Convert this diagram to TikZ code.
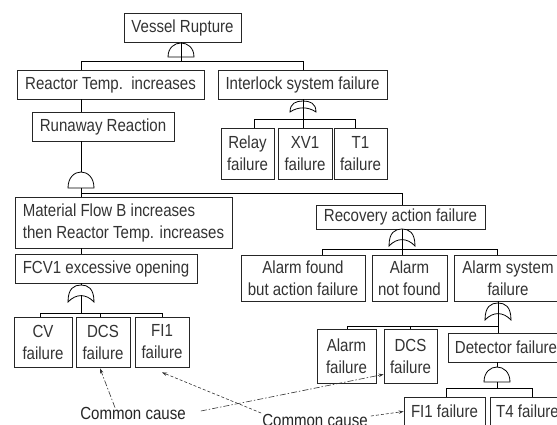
\documentclass[tikz,border=0pt]{standalone}
\usepackage{fontspec}
\setmainfont{Liberation Sans}[FakeStretch=0.86]
\usetikzlibrary{arrows.meta}

\begin{document}
\begin{tikzpicture}[x=1pt,y=-1pt,
  font=\fontsize{17.5}{22}\selectfont,
  box/.style={draw=black!85, line width=0.8pt, fill=white, inner sep=0pt, align=center, text=black!80},
  wire/.style={draw=black, line width=0.8pt},
  gate/.style={draw=black, line width=0.8pt, fill=white},
  pics/andgate/.style={code={\path[gate] (-13,#1) .. controls (-13,{-#1/3}) and (13,{-#1/3}) .. (13,#1) -- cycle;}},
  pics/orgate/.style={code={\path[gate] (-13,#1) .. controls (-13,{0.2*#1}) and (-7,0) .. (0,0) .. controls (7,0) and (13,{0.2*#1}) .. (13,#1) .. controls (5,{0.5*#1}) and (-5,{0.5*#1}) .. cycle;}},
  cause/.style={text=black!85, inner sep=1pt},
  link/.style={draw=black!80, line width=0.6pt, -{Stealth[length=5pt,width=3.5pt]}},
  dashdot/.style={dash pattern=on 6pt off 2pt on 1.5pt off 2pt},
  shortdash/.style={dash pattern=on 3pt off 2pt}]

\useasboundingbox (0,0) rectangle (557,425);
\clip (0,0) rectangle (557,425);
\fill[white] (0,0) rectangle (557,425);

% ---- events ----
\node[box, minimum width=117pt, minimum height=29pt] (vessel)    at (182.5,27.5) {Vessel Rupture};
\node[box, minimum width=187pt, minimum height=29pt] (reactor)   at (110.5,84.5) {Reactor Temp.\ \ increases};
\node[box, minimum width=169pt, minimum height=29pt] (interlock) at (302.5,84.5) {Interlock system failure};
\node[box, minimum width=142pt, minimum height=29pt] (runaway)   at (103,126.5) {Runaway Reaction};
\node[box, minimum width=53pt,  minimum height=51pt] (relay)     at (247.5,153.5) {Relay\\failure};
\node[box, minimum width=54pt,  minimum height=51pt] (xv)        at (305,153.5) {XV1\\failure};
\node[box, minimum width=53pt,  minimum height=51pt] (tone)      at (360.5,153.5) {T1\\failure};
\node[box, align=left, minimum width=217pt, minimum height=51pt] (material) at (123.5,222.5) {Material Flow B increases\\then Reactor Temp. increases};
\node[box, minimum width=182pt, minimum height=29pt] (fcv)       at (106,268.5) {FCV1 excessive opening};
\node[box, minimum width=58pt,  minimum height=50pt] (cv)        at (43,342) {CV\\failure};
\node[box, minimum width=54pt,  minimum height=50pt] (dcsA)      at (103,342) {DCS\\failure};
\node[box, minimum width=54pt,  minimum height=50pt] (fiA)       at (162,342) {FI1\\failure};
\node[box, minimum width=169pt, minimum height=24pt] (recovery)  at (400.5,217) {Recovery action failure};
\node[box, minimum width=124pt, minimum height=46pt] (afound)    at (303,278) {Alarm found\\but action failure};
\node[box, minimum width=75pt,  minimum height=46pt] (anot)      at (409.5,278) {Alarm\\not found};
\node[box, minimum width=108pt, minimum height=46pt] (asys)      at (508,278) {Alarm system\\failure};
\node[box, minimum width=59pt,  minimum height=54pt] (afail)     at (346.5,356) {Alarm\\failure};
\node[box, minimum width=53pt,  minimum height=54pt] (dcsB)      at (410.5,356) {DCS\\failure};
\node[box, minimum width=116pt, minimum height=29pt] (det)       at (506,347.5) {Detector failure};
\node[box, minimum width=81pt,  minimum height=29pt] (fiB)       at (444.5,411.5) {FI1 failure};
\node[box, minimum width=75pt,  minimum height=29pt] (tfour)     at (527.5,411.5) {T4 failure};
\node[cause] (ccA) at (133,413) {Common cause};
\node[cause] (ccB) at (315,420) {Common cause};

% ---- gate apexes, bar levels and branch positions ----
\coordinate (gA) at (181,43);
\coordinate (gB) at (81,172);
\coordinate (gC) at (303,101);
\coordinate (gD) at (81,285);
\coordinate (gE) at (402,229);
\coordinate (gF) at (498,303);
\coordinate (gG) at (497,367);
\coordinate (bA) at (0,61);
\coordinate (bB) at (0,193);
\coordinate (bC) at (0,313);
\coordinate (bD) at (0,119);
\coordinate (bE) at (0,249);
\coordinate (bF) at (0,326);
\coordinate (bG) at (0,388);
\coordinate (kCV) at (40,0);
\coordinate (kDCSa) at (100,0);
\coordinate (kFIa) at (162,0);
\coordinate (kRelay) at (254,0);
\coordinate (kT1) at (355,0);
\coordinate (kFound) at (322,0);
\coordinate (kSys) at (497,0);
\coordinate (kAlarm) at (347,0);
\coordinate (kDCSb) at (410,0);
\coordinate (kFIb) at (446,0);
\coordinate (kT4) at (532,0);

% ---- gates ----
\pic at (gA) {andgate=14};
\pic at (gB) {andgate=16};
\pic at (gC) {orgate=11};
\pic at (gD) {orgate=17};
\pic at (gE) {orgate=17};
\pic at (gF) {orgate=17};
\pic at (gG) {andgate=15};

% ---- tree connections ----
\draw[wire] (gA |- vessel.south) -- (gA |- bA);
\draw[wire] (gB |- reactor.north) -- (gB |- bA) -- (gC |- bA) -- (gC |- interlock.north);
\draw[wire] (gB |- reactor.south) -- (gB |- runaway.north);
\draw[wire] (gB |- runaway.south) -- (gB);
\draw[wire] (gB) ++(0,16) -- (gB |- bB);
\draw[wire] (gB |- material.north) -- (gB |- bB) -- (gE |- bB) -- (gE |- recovery.north);
\draw[wire] (gB |- material.south) -- (gB |- fcv.north);
\draw[wire] (gD |- fcv.south) -- (gD);
\draw[wire] (gD) ++(0,10) -- (gD |- bC);
\draw[wire] (kCV |- cv.north) -- (kCV |- bC) -- (kFIa |- bC) -- (kFIa |- fiA.north);
\draw[wire] (kDCSa |- bC) -- (kDCSa |- dcsA.north);

\draw[wire] (gC |- interlock.south) -- (gC |- xv.north);
\draw[wire] (kRelay |- relay.north) -- (kRelay |- bD) -- (kT1 |- bD) -- (kT1 |- tone.north);

\draw[wire] (gE |- recovery.south) -- (gE |- anot.north);
\draw[wire] (kFound |- afound.north) -- (kFound |- bE) -- (kSys |- bE) -- (kSys |- asys.north);

\draw[wire] (gF |- asys.south) -- (gF |- det.north);
\draw[wire] (kAlarm |- afail.north) -- (kAlarm |- bF) -- (gF |- bF);
\draw[wire] (kDCSb |- bF) -- (kDCSb |- dcsB.north);

\draw[wire] (gG |- det.south) -- (gG);
\draw[wire] (gG) ++(0,15) -- (gG |- bG);
\draw[wire] (kFIb |- fiB.north) -- (kFIb |- bG) -- (kT4 |- bG) -- (kT4 |- tfour.north);

% ---- common cause links ----
\draw[link, dashdot] ([xshift=-18pt,yshift=-2pt]ccA.north) -- ([xshift=-3pt,yshift=-1pt]dcsA.south);
\draw[link, dashdot] ([xshift=14pt,yshift=2pt]ccA.east) -- ([yshift=9pt]dcsB.south west);
\draw[link, shortdash] ([yshift=7pt]ccB.west) -- ([yshift=-5pt]fiA.south);
\draw[link, shortdash] ([xshift=2pt,yshift=4pt]ccB.east) -- (fiB.west);
\end{tikzpicture}
\end{document}
